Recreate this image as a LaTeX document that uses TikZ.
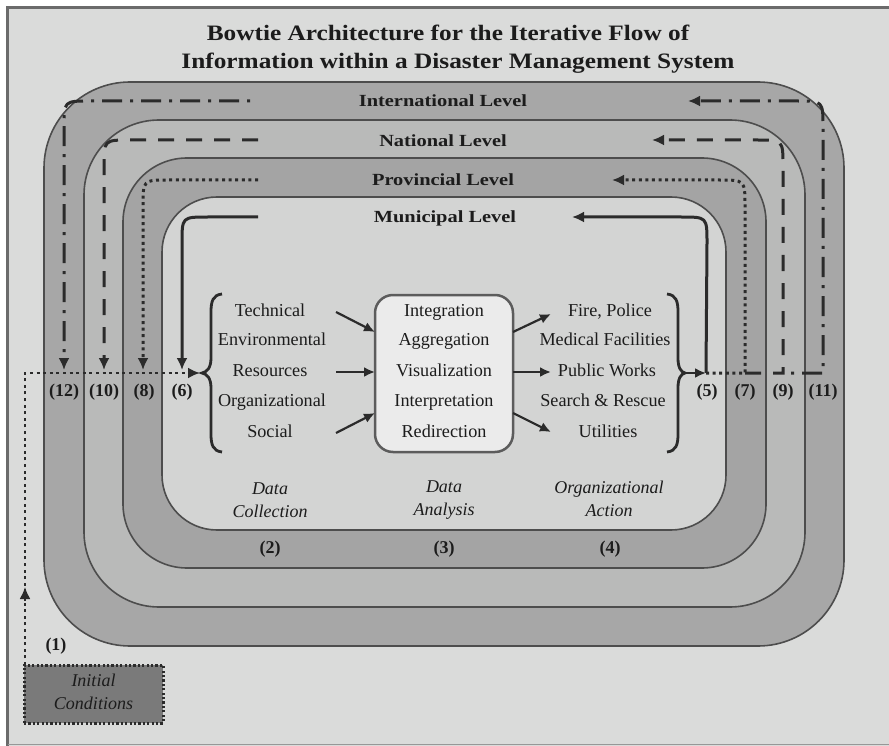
\documentclass[tikz,border=0pt]{standalone}
\usepackage{fontspec}
\usepackage{graphicx}
\setmainfont{Liberation Serif}
\usetikzlibrary{arrows.meta}
\definecolor{bgc}{HTML}{DADBDA}
\definecolor{framec}{HTML}{6B6B6B}
\definecolor{bandA}{HTML}{A7A7A7}
\definecolor{bandB}{HTML}{B9BAB9}
\definecolor{bandC}{HTML}{A4A4A4}
\definecolor{innerc}{HTML}{D3D4D3}
\definecolor{ringline}{HTML}{4D4D4D}
\definecolor{ink}{HTML}{1C1C1C}
\definecolor{linec}{HTML}{2B2B2B}
\definecolor{boxfill}{HTML}{EBEBEB}
\definecolor{boxline}{HTML}{5C5C5C}
\definecolor{initfill}{HTML}{7A7A7A}
\tikzset{
  ring/.style={draw=ringline, line width=1.6pt},
  flow/.style={draw=linec, line width=3pt},
  tipend/.style={-{Latex[length=12pt,width=11pt]}},
  smallarrow/.style={draw=linec, line width=2.2pt, -{Latex[length=11pt,width=10pt]}},
  titlef/.style={font=\bfseries\fontsize{22}{26}\selectfont, text=ink, inner sep=0pt},
  lvl/.style={font=\bfseries\fontsize{17}{20}\selectfont, text=ink, inner sep=0pt},
  item/.style={font=\fontsize{18.2}{20}\selectfont, text=ink, inner sep=0pt, text height=12pt, text depth=4pt},
  num/.style={font=\bfseries\fontsize{18}{20}\selectfont, text=ink, inner sep=0pt},
  phase/.style={font=\itshape\fontsize{18}{22.5}\selectfont, text=ink, align=center, inner sep=0pt},
  dotline/.style={dash pattern=on 3pt off 3.6pt},
  dashline/.style={dash pattern=on 16pt off 12pt},
  dashdotline/.style={dash pattern=on 20pt off 8pt on 3pt off 8pt, dash phase=20pt},
}
\begin{document}
\begin{tikzpicture}[x=1pt,y=-1pt]
\useasboundingbox (0,0) rectangle (889,746);
\fill[white] (0,0) rectangle (889,746);
\fill[bgc] (7,7) rectangle (889,746);
\draw[framec, line width=3pt] (7.5,746) -- (7.5,7.5) -- (889,7.5);
\draw[framec!70, line width=1.2pt] (7.5,744.5) -- (889,744.5);

% title
\node[titlef] (t1) at (448,33) {\scalebox{1.15}[1]{Bowtie Architecture for the Iterative Flow of}};
\node[titlef] (t2) at (458,63) {\scalebox{1.15}[1]{Information within a Disaster Management System}};

% rings
\draw[ring, fill=bandA, rounded corners=86pt] (44,82) rectangle (844,646);
\draw[ring, fill=bandB, rounded corners=75pt] (84,120) rectangle (805,607);
\draw[ring, fill=bandC, rounded corners=64pt] (123,158) rectangle (766,568);
\draw[ring, fill=innerc, rounded corners=55pt] (162,197) rectangle (726,530);

% level labels
\node[lvl] (intl) at (443,101) {\scalebox{1.2}[1]{International Level}};
\node[lvl] (natl) at (443,141) {\scalebox{1.2}[1]{National Level}};
\node[lvl] (prov) at (443,180) {\scalebox{1.2}[1]{Provincial Level}};
\node[lvl] (muni) at (445,218) {\scalebox{1.2}[1]{Municipal Level}};

% coordinates
\coordinate (m5) at (706,373);
\coordinate (p7) at (745,373);
\coordinate (n9) at (783,373);
\coordinate (mR) at (572,217);
\coordinate (pR) at (612,180);
\coordinate (nR) at (652,140);
\coordinate (iR) at (688,101);
\coordinate (mL) at (258,217);
\coordinate (pL) at (258,180);
\coordinate (nL) at (258,140);
\coordinate (iL) at (258,101);
\coordinate (m6) at (182,370);
\coordinate (p8) at (143,370);
\coordinate (n10) at (104,370);
\coordinate (i12) at (64,370);

% municipal (solid)
\draw[flow, tipend] (m5) -- (707,243) .. controls (707,217) .. (681,217) -- (mR);
\draw[flow, tipend] (mL) -- (208,217) .. controls (182,217) .. (182,243) -- (m6);
% provincial (dotted)
\draw[flow, dotline, tipend] (m5) -- (p7) -- (745,206) .. controls (745,180) .. (719,180) -- (pR);
\draw[flow, dotline, tipend] (pL) -- (169,180) .. controls (143,180) .. (143,206) -- (p8);
% national (dashed)
\draw[flow, dashline, tipend] (p7) -- (n9) -- (783,166) .. controls (783,140) .. (757,140) -- (nR);
\draw[flow, dashline, tipend] (nL) -- (130,140) .. controls (104,140) .. (104,166) -- (n10);
% international (dash-dot)
\draw[flow, dashdotline, tipend] (n9) -- (823,373) -- (823,127) .. controls (823,101) .. (797,101) -- (iR);
\draw[flow, dashdotline, tipend] (iL) -- (90,101) .. controls (64,101) .. (64,127) -- (i12);

% initial conditions
\node[draw=linec, line width=3pt, dash pattern=on 2.2pt off 2.2pt, fill=initfill,
      minimum width=139pt, minimum height=58pt, inner sep=0pt] (ic) at (93.5,694) {};
\node[phase] (ictext) at (93.5,692) {Initial\\Conditions};
\coordinate (lb) at (200,373);
\draw[flow, line width=2.8pt, dotline, tipend] (25,665) -- (25,373) -- (lb);
\coordinate (upA) at (25,601);
\coordinate (upB) at (25,587);
\draw[flow, line width=2pt, tipend] (upA) -- (upB);
\node[num] (n1) at (56,646) {(1)};

% braces
\draw[flow, line width=2.8pt] (222,294) .. controls (213,295) and (211,301) .. (211,312)
  -- (211,358) .. controls (211,368) and (207,372) .. (202,373)
  .. controls (207,374) and (211,378) .. (211,388)
  -- (211,434) .. controls (211,445) and (213,451) .. (222,452);
\draw[flow, line width=2.8pt] (667,294) .. controls (676,295) and (678,301) .. (678,312)
  -- (678,358) .. controls (678,368) and (681,372) .. (685,373)
  .. controls (681,374) and (678,378) .. (678,388)
  -- (678,434) .. controls (678,445) and (676,451) .. (667,452);
\coordinate (rb) at (685,373);
\draw[smallarrow] (rb) -- (m5);

% labels at loops
\node[num] (l12) at (64,392) {(12)};
\node[num] (l10) at (104,392) {(10)};
\node[num] (l8) at (144,392) {(8)};
\node[num] (l6) at (182,392) {(6)};
\node[num] (l5) at (707,392) {(5)};
\node[num] (l7) at (745,392) {(7)};
\node[num] (l9) at (783,392) {(9)};
\node[num] (l11) at (823,392) {(11)};

% left column
\node[item] (c1) at (270,312) {Technical};
\node[item] (c2) at (272,341) {Environmental};
\node[item] (c3) at (270,372) {Resources};
\node[item] (c4) at (272,402) {Organizational};
\node[item] (c5) at (270,433) {Social};

% center box
\node[draw=boxline, line width=2.5pt, fill=boxfill, rounded corners=18pt,
      minimum width=138pt, minimum height=157pt, inner sep=0pt] (box) at (444,373.5) {};
\node[item] (a1) at (444,312) {Integration};
\node[item] (a2) at (444,341) {Aggregation};
\node[item] (a3) at (444,372) {Visualization};
\node[item] (a4) at (444,402) {Interpretation};
\node[item] (a5) at (444,433) {Redirection};

% right column
\node[item] (o1) at (610,312) {Fire, Police};
\node[item] (o2) at (605,341) {Medical Facilities};
\node[item] (o3) at (607,372) {Public Works};
\node[item] (o4) at (603,402) {Search \& Rescue};
\node[item] (o5) at (608,433) {Utilities};

% arrows
\coordinate (la1) at (336,312);
\coordinate (la2) at (336,372);
\coordinate (la3) at (336,433);
\coordinate (lb1) at (375,332);
\coordinate (lb2) at (375,372);
\coordinate (lb3) at (375,413);
\draw[smallarrow] (la1) -- (lb1);
\draw[smallarrow] (la2) -- (lb2);
\draw[smallarrow] (la3) -- (lb3);
\coordinate (ra1) at (513,332);
\coordinate (ra2) at (513,372);
\coordinate (ra3) at (513,413);
\coordinate (rb1) at (551,314);
\coordinate (rb2) at (551,372);
\coordinate (rb3) at (551,432);
\draw[smallarrow] (ra1) -- (rb1);
\draw[smallarrow] (ra2) -- (rb2);
\draw[smallarrow] (ra3) -- (rb3);

% phases
\node[phase] (ph1) at (270,500) {Data\\Collection};
\node[phase] (ph2) at (444,500) {Data\\Analysis};
\node[phase] (ph3) at (609,499) {Organizational\\Action};
\node[num] (s2) at (270,549) {(2)};
\node[num] (s3) at (444,549) {(3)};
\node[num] (s4) at (610,549) {(4)};
\end{tikzpicture}
\end{document}
